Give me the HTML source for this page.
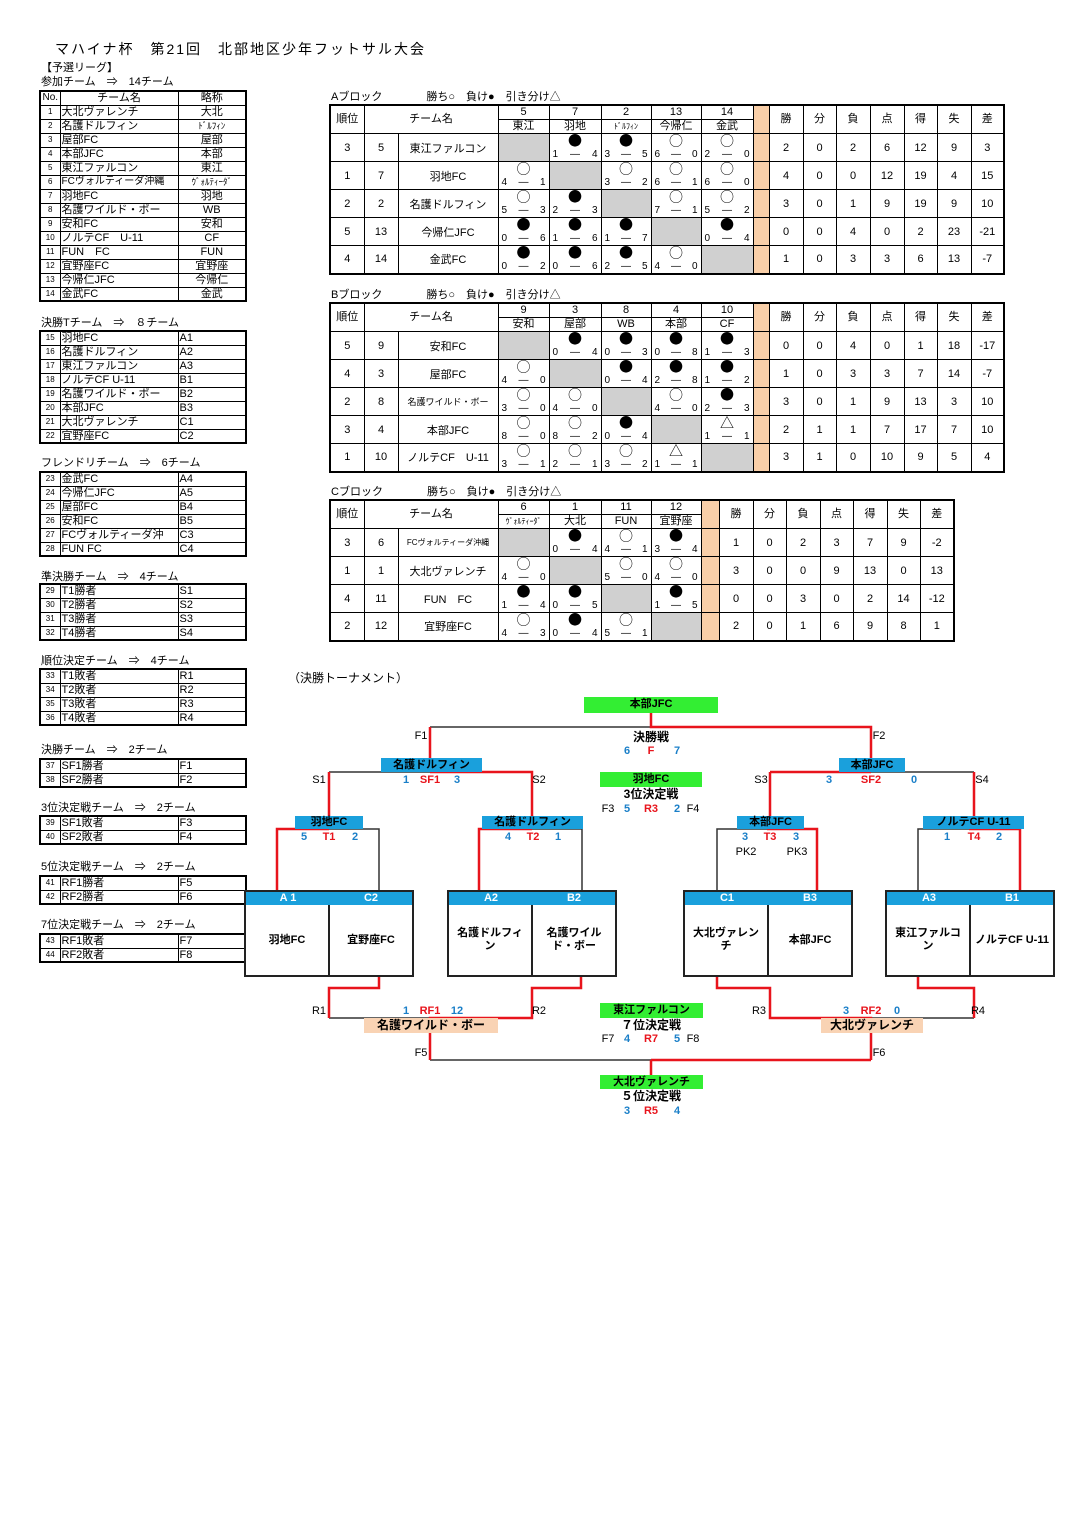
<!DOCTYPE html>
<html><head><meta charset="utf-8">
<style>
*{margin:0;padding:0;box-sizing:border-box}
body{width:1076px;height:1522px;background:#fff;position:relative;font-family:"Liberation Sans","Noto Sans CJK JP",sans-serif;color:#000;overflow:hidden}
.a{position:absolute;white-space:nowrap}
.ti{font-size:11px;line-height:12px}
table{border-collapse:collapse;table-layout:fixed;position:absolute}
.lt{left:39px;width:206px;font-size:11px;border:2px solid #000}
.lt td{border:1px solid #000;height:14px;line-height:12px;padding:0 1px;overflow:hidden;white-space:nowrap}
.lt td.n{font-size:8px;text-align:center}
.lt td.c{text-align:center}
.bk{left:329px;font-size:11px;border:2px solid #000}
.bk td{border:1px solid #000;height:28px;text-align:center;padding:0;position:relative;white-space:nowrap;overflow:hidden}
.bk tr.h td{height:14px;line-height:13px}
.bk td.g{background:#d0d0d0}
.bk td.o{background:#f9cfa8}
.m{position:absolute;top:0;left:0;right:0;font-family:"Noto Sans CJK JP",sans-serif;font-size:14px;line-height:14px}
.l{position:absolute;left:3px;bottom:0;font-size:10px;line-height:12px}
.r{position:absolute;right:3px;bottom:0;font-size:10px;line-height:12px}
.d{position:absolute;left:0;right:0;bottom:0;font-size:10px;line-height:12px}
.sm{font-size:8px}
.t{position:absolute;transform:translate(-50%,-50%);white-space:nowrap;font-size:11px;font-weight:bold;line-height:12px}
.bl{color:#1a7fc8}.rd{color:#e8141c}
.bx{position:absolute;font-size:11px;font-weight:bold;text-align:center;line-height:14px;white-space:nowrap}
.gr{background:#33ee33}.bu{background:#1aa0dc}.or{background:#f9d3b4}
.rb{position:absolute;border:2px solid #222;background:#fff}
.rb .hd{position:absolute;top:0;height:13px;background:#1aa0dc;color:#fff;font-size:11px;font-weight:bold;text-align:center;line-height:13px}
.rb .cl{position:absolute;top:13px;bottom:0;display:flex;align-items:center;justify-content:center;text-align:center;font-size:11px;font-weight:bold;line-height:13px;padding:0 3px}
</style></head><body>

<div class="a" style="left:55px;top:39px;font-size:14px;letter-spacing:2px">マハイナ杯　第21回　北部地区少年フットサル大会</div>
<div class="a ti" style="left:41px;top:62px">【予選リーグ】</div>
<div class="a ti" style="left:41px;top:76px">参加チーム　⇒　14チーム</div>

<table class="lt" style="top:90px"><colgroup><col style="width:20px"><col style="width:118px"><col style="width:68px"></colgroup>
<tr><td class="n" style="font-size:10px">No.</td><td class="c">チーム名</td><td class="c">略称</td></tr>
<tr><td class="n">1</td><td>大北ヴァレンチ</td><td class="c">大北</td></tr>
<tr><td class="n">2</td><td>名護ドルフィン</td><td class="c" style="font-size:9px">ﾄﾞﾙﾌｨﾝ</td></tr>
<tr><td class="n">3</td><td>屋部FC</td><td class="c">屋部</td></tr>
<tr><td class="n">4</td><td>本部JFC</td><td class="c">本部</td></tr>
<tr><td class="n">5</td><td>東江ファルコン</td><td class="c">東江</td></tr>
<tr><td class="n">6</td><td style="font-size:10px">FCヴォルティーダ沖縄</td><td class="c" style="font-size:9px">ｳﾞｫﾙﾃｨｰﾀﾞ</td></tr>
<tr><td class="n">7</td><td>羽地FC</td><td class="c">羽地</td></tr>
<tr><td class="n">8</td><td>名護ワイルド・ボー</td><td class="c">WB</td></tr>
<tr><td class="n">9</td><td>安和FC</td><td class="c">安和</td></tr>
<tr><td class="n">10</td><td>ノルテCF　U-11</td><td class="c">CF</td></tr>
<tr><td class="n">11</td><td>FUN　FC</td><td class="c">FUN</td></tr>
<tr><td class="n">12</td><td>宜野座FC</td><td class="c">宜野座</td></tr>
<tr><td class="n">13</td><td>今帰仁JFC</td><td class="c">今帰仁</td></tr>
<tr><td class="n">14</td><td>金武FC</td><td class="c">金武</td></tr>
</table>

<div class="a ti" style="left:41px;top:317px">決勝Tチーム　⇒　８チーム</div>
<table class="lt" style="top:330px"><colgroup><col style="width:20px"><col style="width:118px"><col style="width:68px"></colgroup>
<tr><td class="n">15</td><td>羽地FC</td><td>A1</td></tr>
<tr><td class="n">16</td><td>名護ドルフィン</td><td>A2</td></tr>
<tr><td class="n">17</td><td>東江ファルコン</td><td>A3</td></tr>
<tr><td class="n">18</td><td>ノルテCF U-11</td><td>B1</td></tr>
<tr><td class="n">19</td><td>名護ワイルド・ボー</td><td>B2</td></tr>
<tr><td class="n">20</td><td>本部JFC</td><td>B3</td></tr>
<tr><td class="n">21</td><td>大北ヴァレンチ</td><td>C1</td></tr>
<tr><td class="n">22</td><td>宜野座FC</td><td>C2</td></tr>
</table>

<div class="a ti" style="left:41px;top:457px">フレンドリチーム　⇒　6チーム</div>
<table class="lt" style="top:471px"><colgroup><col style="width:20px"><col style="width:118px"><col style="width:68px"></colgroup>
<tr><td class="n">23</td><td>金武FC</td><td>A4</td></tr>
<tr><td class="n">24</td><td>今帰仁JFC</td><td>A5</td></tr>
<tr><td class="n">25</td><td>屋部FC</td><td>B4</td></tr>
<tr><td class="n">26</td><td>安和FC</td><td>B5</td></tr>
<tr><td class="n">27</td><td>FCヴォルティーダ沖</td><td>C3</td></tr>
<tr><td class="n">28</td><td>FUN FC</td><td>C4</td></tr>
</table>

<div class="a ti" style="left:41px;top:571px">準決勝チーム　⇒　4チーム</div>
<table class="lt" style="top:583px"><colgroup><col style="width:20px"><col style="width:118px"><col style="width:68px"></colgroup>
<tr><td class="n">29</td><td>T1勝者</td><td>S1</td></tr>
<tr><td class="n">30</td><td>T2勝者</td><td>S2</td></tr>
<tr><td class="n">31</td><td>T3勝者</td><td>S3</td></tr>
<tr><td class="n">32</td><td>T4勝者</td><td>S4</td></tr>
</table>

<div class="a ti" style="left:41px;top:655px">順位決定チーム　⇒　4チーム</div>
<table class="lt" style="top:668px"><colgroup><col style="width:20px"><col style="width:118px"><col style="width:68px"></colgroup>
<tr><td class="n">33</td><td>T1敗者</td><td>R1</td></tr>
<tr><td class="n">34</td><td>T2敗者</td><td>R2</td></tr>
<tr><td class="n">35</td><td>T3敗者</td><td>R3</td></tr>
<tr><td class="n">36</td><td>T4敗者</td><td>R4</td></tr>
</table>

<div class="a ti" style="left:41px;top:744px">決勝チーム　⇒　2チーム</div>
<table class="lt" style="top:758px"><colgroup><col style="width:20px"><col style="width:118px"><col style="width:68px"></colgroup>
<tr><td class="n">37</td><td>SF1勝者</td><td>F1</td></tr>
<tr><td class="n">38</td><td>SF2勝者</td><td>F2</td></tr>
</table>

<div class="a ti" style="left:41px;top:802px">3位決定戦チーム　⇒　2チーム</div>
<table class="lt" style="top:815px"><colgroup><col style="width:20px"><col style="width:118px"><col style="width:68px"></colgroup>
<tr><td class="n">39</td><td>SF1敗者</td><td>F3</td></tr>
<tr><td class="n">40</td><td>SF2敗者</td><td>F4</td></tr>
</table>

<div class="a ti" style="left:41px;top:861px">5位決定戦チーム　⇒　2チーム</div>
<table class="lt" style="top:875px"><colgroup><col style="width:20px"><col style="width:118px"><col style="width:68px"></colgroup>
<tr><td class="n">41</td><td>RF1勝者</td><td>F5</td></tr>
<tr><td class="n">42</td><td>RF2勝者</td><td>F6</td></tr>
</table>

<div class="a ti" style="left:41px;top:919px">7位決定戦チーム　⇒　2チーム</div>
<table class="lt" style="top:933px"><colgroup><col style="width:20px"><col style="width:118px"><col style="width:68px"></colgroup>
<tr><td class="n">43</td><td>RF1敗者</td><td>F7</td></tr>
<tr><td class="n">44</td><td>RF2敗者</td><td>F8</td></tr>
</table>

<!-- A block -->
<div class="a ti" style="left:331px;top:91px">Aブロック　　　　勝ち○　負け●　引き分け△</div>
<table class="bk" style="top:104px;width:674px"><colgroup><col style="width:34px"><col style="width:34px"><col style="width:100px"><col style="width:51px"><col style="width:52px"><col style="width:50px"><col style="width:50px"><col style="width:52px"><col style="width:16px"><col style="width:34px"><col style="width:33px"><col style="width:34px"><col style="width:34px"><col style="width:33px"><col style="width:34px"><col style="width:33px"></colgroup>
<tr class="h"><td rowspan="2">順位</td><td rowspan="2" colspan="2">チーム名</td><td>5</td><td>7</td><td>2</td><td>13</td><td>14</td><td rowspan="2" class="o"></td><td rowspan="2">勝</td><td rowspan="2">分</td><td rowspan="2">負</td><td rowspan="2">点</td><td rowspan="2">得</td><td rowspan="2">失</td><td rowspan="2">差</td></tr>
<tr class="h"><td>東江</td><td>羽地</td><td class="sm">ﾄﾞﾙﾌｨﾝ</td><td>今帰仁</td><td>金武</td></tr>
<tr><td>3</td><td>5</td><td>東江ファルコン</td><td class="g"></td><td><span class="m">●</span><span class="l">1</span><span class="d">―</span><span class="r">4</span></td><td><span class="m">●</span><span class="l">3</span><span class="d">―</span><span class="r">5</span></td><td><span class="m">○</span><span class="l">6</span><span class="d">―</span><span class="r">0</span></td><td><span class="m">○</span><span class="l">2</span><span class="d">―</span><span class="r">0</span></td><td class="o"></td><td>2</td><td>0</td><td>2</td><td>6</td><td>12</td><td>9</td><td>3</td></tr>
<tr><td>1</td><td>7</td><td>羽地FC</td><td><span class="m">○</span><span class="l">4</span><span class="d">―</span><span class="r">1</span></td><td class="g"></td><td><span class="m">○</span><span class="l">3</span><span class="d">―</span><span class="r">2</span></td><td><span class="m">○</span><span class="l">6</span><span class="d">―</span><span class="r">1</span></td><td><span class="m">○</span><span class="l">6</span><span class="d">―</span><span class="r">0</span></td><td class="o"></td><td>4</td><td>0</td><td>0</td><td>12</td><td>19</td><td>4</td><td>15</td></tr>
<tr><td>2</td><td>2</td><td>名護ドルフィン</td><td><span class="m">○</span><span class="l">5</span><span class="d">―</span><span class="r">3</span></td><td><span class="m">●</span><span class="l">2</span><span class="d">―</span><span class="r">3</span></td><td class="g"></td><td><span class="m">○</span><span class="l">7</span><span class="d">―</span><span class="r">1</span></td><td><span class="m">○</span><span class="l">5</span><span class="d">―</span><span class="r">2</span></td><td class="o"></td><td>3</td><td>0</td><td>1</td><td>9</td><td>19</td><td>9</td><td>10</td></tr>
<tr><td>5</td><td>13</td><td>今帰仁JFC</td><td><span class="m">●</span><span class="l">0</span><span class="d">―</span><span class="r">6</span></td><td><span class="m">●</span><span class="l">1</span><span class="d">―</span><span class="r">6</span></td><td><span class="m">●</span><span class="l">1</span><span class="d">―</span><span class="r">7</span></td><td class="g"></td><td><span class="m">●</span><span class="l">0</span><span class="d">―</span><span class="r">4</span></td><td class="o"></td><td>0</td><td>0</td><td>4</td><td>0</td><td>2</td><td>23</td><td>-21</td></tr>
<tr><td>4</td><td>14</td><td>金武FC</td><td><span class="m">●</span><span class="l">0</span><span class="d">―</span><span class="r">2</span></td><td><span class="m">●</span><span class="l">0</span><span class="d">―</span><span class="r">6</span></td><td><span class="m">●</span><span class="l">2</span><span class="d">―</span><span class="r">5</span></td><td><span class="m">○</span><span class="l">4</span><span class="d">―</span><span class="r">0</span></td><td class="g"></td><td class="o"></td><td>1</td><td>0</td><td>3</td><td>3</td><td>6</td><td>13</td><td>-7</td></tr>
</table>

<!-- B block -->
<div class="a ti" style="left:331px;top:289px">Bブロック　　　　勝ち○　負け●　引き分け△</div>
<table class="bk" style="top:302px;width:674px"><colgroup><col style="width:34px"><col style="width:34px"><col style="width:100px"><col style="width:51px"><col style="width:52px"><col style="width:50px"><col style="width:50px"><col style="width:52px"><col style="width:16px"><col style="width:34px"><col style="width:33px"><col style="width:34px"><col style="width:34px"><col style="width:33px"><col style="width:34px"><col style="width:33px"></colgroup>
<tr class="h"><td rowspan="2">順位</td><td rowspan="2" colspan="2">チーム名</td><td>9</td><td>3</td><td>8</td><td>4</td><td>10</td><td rowspan="2" class="o"></td><td rowspan="2">勝</td><td rowspan="2">分</td><td rowspan="2">負</td><td rowspan="2">点</td><td rowspan="2">得</td><td rowspan="2">失</td><td rowspan="2">差</td></tr>
<tr class="h"><td>安和</td><td>屋部</td><td>WB</td><td>本部</td><td>CF</td></tr>
<tr><td>5</td><td>9</td><td>安和FC</td><td class="g"></td><td><span class="m">●</span><span class="l">0</span><span class="d">―</span><span class="r">4</span></td><td><span class="m">●</span><span class="l">0</span><span class="d">―</span><span class="r">3</span></td><td><span class="m">●</span><span class="l">0</span><span class="d">―</span><span class="r">8</span></td><td><span class="m">●</span><span class="l">1</span><span class="d">―</span><span class="r">3</span></td><td class="o"></td><td>0</td><td>0</td><td>4</td><td>0</td><td>1</td><td>18</td><td>-17</td></tr>
<tr><td>4</td><td>3</td><td>屋部FC</td><td><span class="m">○</span><span class="l">4</span><span class="d">―</span><span class="r">0</span></td><td class="g"></td><td><span class="m">●</span><span class="l">0</span><span class="d">―</span><span class="r">4</span></td><td><span class="m">●</span><span class="l">2</span><span class="d">―</span><span class="r">8</span></td><td><span class="m">●</span><span class="l">1</span><span class="d">―</span><span class="r">2</span></td><td class="o"></td><td>1</td><td>0</td><td>3</td><td>3</td><td>7</td><td>14</td><td>-7</td></tr>
<tr><td>2</td><td>8</td><td style="font-size:9px">名護ワイルド・ボー</td><td><span class="m">○</span><span class="l">3</span><span class="d">―</span><span class="r">0</span></td><td><span class="m">○</span><span class="l">4</span><span class="d">―</span><span class="r">0</span></td><td class="g"></td><td><span class="m">○</span><span class="l">4</span><span class="d">―</span><span class="r">0</span></td><td><span class="m">●</span><span class="l">2</span><span class="d">―</span><span class="r">3</span></td><td class="o"></td><td>3</td><td>0</td><td>1</td><td>9</td><td>13</td><td>3</td><td>10</td></tr>
<tr><td>3</td><td>4</td><td>本部JFC</td><td><span class="m">○</span><span class="l">8</span><span class="d">―</span><span class="r">0</span></td><td><span class="m">○</span><span class="l">8</span><span class="d">―</span><span class="r">2</span></td><td><span class="m">●</span><span class="l">0</span><span class="d">―</span><span class="r">4</span></td><td class="g"></td><td><span class="m">△</span><span class="l">1</span><span class="d">―</span><span class="r">1</span></td><td class="o"></td><td>2</td><td>1</td><td>1</td><td>7</td><td>17</td><td>7</td><td>10</td></tr>
<tr><td>1</td><td>10</td><td>ノルテCF　U-11</td><td><span class="m">○</span><span class="l">3</span><span class="d">―</span><span class="r">1</span></td><td><span class="m">○</span><span class="l">2</span><span class="d">―</span><span class="r">1</span></td><td><span class="m">○</span><span class="l">3</span><span class="d">―</span><span class="r">2</span></td><td><span class="m">△</span><span class="l">1</span><span class="d">―</span><span class="r">1</span></td><td class="g"></td><td class="o"></td><td>3</td><td>1</td><td>0</td><td>10</td><td>9</td><td>5</td><td>4</td></tr>
</table>

<!-- C block -->
<div class="a ti" style="left:331px;top:486px">Cブロック　　　　勝ち○　負け●　引き分け△</div>
<table class="bk" style="top:499px;width:624px"><colgroup><col style="width:34px"><col style="width:34px"><col style="width:100px"><col style="width:51px"><col style="width:52px"><col style="width:50px"><col style="width:50px"><col style="width:18px"><col style="width:34px"><col style="width:33px"><col style="width:34px"><col style="width:33px"><col style="width:34px"><col style="width:33px"><col style="width:34px"></colgroup>
<tr class="h"><td rowspan="2">順位</td><td rowspan="2" colspan="2">チーム名</td><td>6</td><td>1</td><td>11</td><td>12</td><td rowspan="2" class="o"></td><td rowspan="2">勝</td><td rowspan="2">分</td><td rowspan="2">負</td><td rowspan="2">点</td><td rowspan="2">得</td><td rowspan="2">失</td><td rowspan="2">差</td></tr>
<tr class="h"><td class="sm">ｳﾞｫﾙﾃｨｰﾀﾞ</td><td>大北</td><td>FUN</td><td>宜野座</td></tr>
<tr><td>3</td><td>6</td><td style="font-size:8px">FCヴォルティーダ沖縄</td><td class="g"></td><td><span class="m">●</span><span class="l">0</span><span class="d">―</span><span class="r">4</span></td><td><span class="m">○</span><span class="l">4</span><span class="d">―</span><span class="r">1</span></td><td><span class="m">●</span><span class="l">3</span><span class="d">―</span><span class="r">4</span></td><td class="o"></td><td>1</td><td>0</td><td>2</td><td>3</td><td>7</td><td>9</td><td>-2</td></tr>
<tr><td>1</td><td>1</td><td>大北ヴァレンチ</td><td><span class="m">○</span><span class="l">4</span><span class="d">―</span><span class="r">0</span></td><td class="g"></td><td><span class="m">○</span><span class="l">5</span><span class="d">―</span><span class="r">0</span></td><td><span class="m">○</span><span class="l">4</span><span class="d">―</span><span class="r">0</span></td><td class="o"></td><td>3</td><td>0</td><td>0</td><td>9</td><td>13</td><td>0</td><td>13</td></tr>
<tr><td>4</td><td>11</td><td>FUN　FC</td><td><span class="m">●</span><span class="l">1</span><span class="d">―</span><span class="r">4</span></td><td><span class="m">●</span><span class="l">0</span><span class="d">―</span><span class="r">5</span></td><td class="g"></td><td><span class="m">●</span><span class="l">1</span><span class="d">―</span><span class="r">5</span></td><td class="o"></td><td>0</td><td>0</td><td>3</td><td>0</td><td>2</td><td>14</td><td>-12</td></tr>
<tr><td>2</td><td>12</td><td>宜野座FC</td><td><span class="m">○</span><span class="l">4</span><span class="d">―</span><span class="r">3</span></td><td><span class="m">●</span><span class="l">0</span><span class="d">―</span><span class="r">4</span></td><td><span class="m">○</span><span class="l">5</span><span class="d">―</span><span class="r">1</span></td><td class="g"></td><td class="o"></td><td>2</td><td>0</td><td>1</td><td>6</td><td>9</td><td>8</td><td>1</td></tr>
</table>

<div class="a" style="left:288px;top:669px;font-size:12px">（決勝トーナメント）</div>

<svg class="a" style="left:0;top:0" width="1076" height="1522">
<g fill="none" stroke="#333" stroke-width="1.5">
<path d="M430 727H651M329 772H430M871 772H974M329 829H379V891M532 829H582V891M717 891V829H767M918 891V829H969M329 1018H430M871 1018H974M430 1060H651"/>
</g>
<g fill="none" stroke="#e8141c" stroke-width="2.5">
<path d="M651 713V727H871V759M430 727V759M430 772H532V829M329 772V829M770 772H871M770 772V829M974 772V829M277 891V829H329M479 891V829H532M767 829H817V891M969 829H1020V891M379 976V988H329V1018M581 976V988H532V1018H430V1060M717 976V988H770V1018H871V1060M918 976V988H974V1018M651 1060H871M651 1060V1075"/>
</g>
</svg>

<div class="bx gr" style="left:584px;top:697px;width:134px;height:16px">本部JFC</div>
<div class="t" style="left:421px;top:736px;font-weight:normal">F1</div>
<div class="t" style="left:879px;top:736px;font-weight:normal">F2</div>
<div class="t" style="left:651px;top:737px;font-size:12px">決勝戦</div>
<div class="t bl" style="left:627px;top:751px">6</div><div class="t rd" style="left:651px;top:751px">F</div><div class="t bl" style="left:677px;top:751px">7</div>

<div class="bx bu" style="left:381px;top:758px;width:101px;height:14px;line-height:14px">名護ドルフィン</div>
<div class="bx bu" style="left:839px;top:758px;width:66px;height:14px;line-height:14px">本部JFC</div>
<div class="t" style="left:319px;top:780px;font-weight:normal">S1</div>
<div class="t" style="left:539px;top:780px;font-weight:normal">S2</div>
<div class="t" style="left:761px;top:780px;font-weight:normal">S3</div>
<div class="t" style="left:982px;top:780px;font-weight:normal">S4</div>
<div class="t bl" style="left:406px;top:780px">1</div><div class="t rd" style="left:430px;top:780px">SF1</div><div class="t bl" style="left:457px;top:780px">3</div>
<div class="t bl" style="left:829px;top:780px">3</div><div class="t rd" style="left:871px;top:780px">SF2</div><div class="t bl" style="left:914px;top:780px">0</div>

<div class="bx gr" style="left:600px;top:772px;width:102px;height:15px">羽地FC</div>
<div class="t" style="left:651px;top:794px;font-size:12px">3位決定戦</div>
<div class="t" style="left:608px;top:809px;font-weight:normal">F3</div><div class="t bl" style="left:627px;top:809px">5</div><div class="t rd" style="left:651px;top:809px">R3</div><div class="t bl" style="left:677px;top:809px">2</div><div class="t" style="left:693px;top:809px;font-weight:normal">F4</div>

<div class="bx bu" style="left:295px;top:816px;width:68px;height:13px;line-height:13px">羽地FC</div>
<div class="bx bu" style="left:482px;top:816px;width:101px;height:13px;line-height:13px">名護ドルフィン</div>
<div class="bx bu" style="left:737px;top:816px;width:67px;height:13px;line-height:13px">本部JFC</div>
<div class="bx bu" style="left:923px;top:816px;width:101px;height:13px;line-height:13px">ノルテCF U-11</div>
<div class="t bl" style="left:304px;top:837px">5</div><div class="t rd" style="left:329px;top:837px">T1</div><div class="t bl" style="left:355px;top:837px">2</div>
<div class="t bl" style="left:508px;top:837px">4</div><div class="t rd" style="left:533px;top:837px">T2</div><div class="t bl" style="left:558px;top:837px">1</div>
<div class="t bl" style="left:745px;top:837px">3</div><div class="t rd" style="left:770px;top:837px">T3</div><div class="t bl" style="left:796px;top:837px">3</div>
<div class="t bl" style="left:947px;top:837px">1</div><div class="t rd" style="left:974px;top:837px">T4</div><div class="t bl" style="left:999px;top:837px">2</div>
<div class="t" style="left:746px;top:852px;font-weight:normal">PK2</div><div class="t" style="left:797px;top:852px;font-weight:normal">PK3</div>

<div class="rb" style="left:244px;top:890px;width:170px;height:87px">
<div class="hd" style="left:0;width:84px">A 1</div><div class="hd" style="left:84px;width:82px">C2</div>
<div class="cl" style="left:0;width:84px;border-right:2px solid #222">羽地FC</div><div class="cl" style="left:84px;width:82px">宜野座FC</div></div>
<div class="rb" style="left:447px;top:890px;width:170px;height:87px">
<div class="hd" style="left:0;width:84px">A2</div><div class="hd" style="left:84px;width:82px">B2</div>
<div class="cl" style="left:0;width:84px;border-right:2px solid #222">名護ドルフィン</div><div class="cl" style="left:84px;width:82px">名護ワイルド・ボー</div></div>
<div class="rb" style="left:683px;top:890px;width:170px;height:87px">
<div class="hd" style="left:0;width:84px">C1</div><div class="hd" style="left:84px;width:82px">B3</div>
<div class="cl" style="left:0;width:84px;border-right:2px solid #222">大北ヴァレンチ</div><div class="cl" style="left:84px;width:82px">本部JFC</div></div>
<div class="rb" style="left:885px;top:890px;width:170px;height:87px">
<div class="hd" style="left:0;width:84px">A3</div><div class="hd" style="left:84px;width:82px">B1</div>
<div class="cl" style="left:0;width:84px;border-right:2px solid #222">東江ファルコン</div><div class="cl" style="left:84px;width:82px;white-space:nowrap;padding:0">ノルテCF U-11</div></div>

<div class="t" style="left:319px;top:1011px;font-weight:normal">R1</div>
<div class="t" style="left:539px;top:1011px;font-weight:normal">R2</div>
<div class="t" style="left:759px;top:1011px;font-weight:normal">R3</div>
<div class="t" style="left:978px;top:1011px;font-weight:normal">R4</div>
<div class="t bl" style="left:406px;top:1011px">1</div><div class="t rd" style="left:430px;top:1011px">RF1</div><div class="t bl" style="left:457px;top:1011px">12</div>
<div class="t bl" style="left:846px;top:1011px">3</div><div class="t rd" style="left:871px;top:1011px">RF2</div><div class="t bl" style="left:897px;top:1011px">0</div>
<div class="bx or" style="left:364px;top:1018px;width:134px;height:15px;font-size:12px">名護ワイルド・ボー</div>
<div class="bx or" style="left:821px;top:1018px;width:102px;height:15px;font-size:12px">大北ヴァレンチ</div>

<div class="bx gr" style="left:600px;top:1003px;width:103px;height:15px">東江ファルコン</div>
<div class="t" style="left:651px;top:1025px;font-size:12px">７位決定戦</div>
<div class="t" style="left:608px;top:1039px;font-weight:normal">F7</div><div class="t bl" style="left:627px;top:1039px">4</div><div class="t rd" style="left:651px;top:1039px">R7</div><div class="t bl" style="left:677px;top:1039px">5</div><div class="t" style="left:693px;top:1039px;font-weight:normal">F8</div>

<div class="t" style="left:421px;top:1053px;font-weight:normal">F5</div>
<div class="t" style="left:879px;top:1053px;font-weight:normal">F6</div>

<div class="bx gr" style="left:600px;top:1075px;width:103px;height:14px;line-height:14px">大北ヴァレンチ</div>
<div class="t" style="left:651px;top:1096px;font-size:12px">５位決定戦</div>
<div class="t bl" style="left:627px;top:1111px">3</div><div class="t rd" style="left:651px;top:1111px">R5</div><div class="t bl" style="left:677px;top:1111px">4</div>

</body></html>
